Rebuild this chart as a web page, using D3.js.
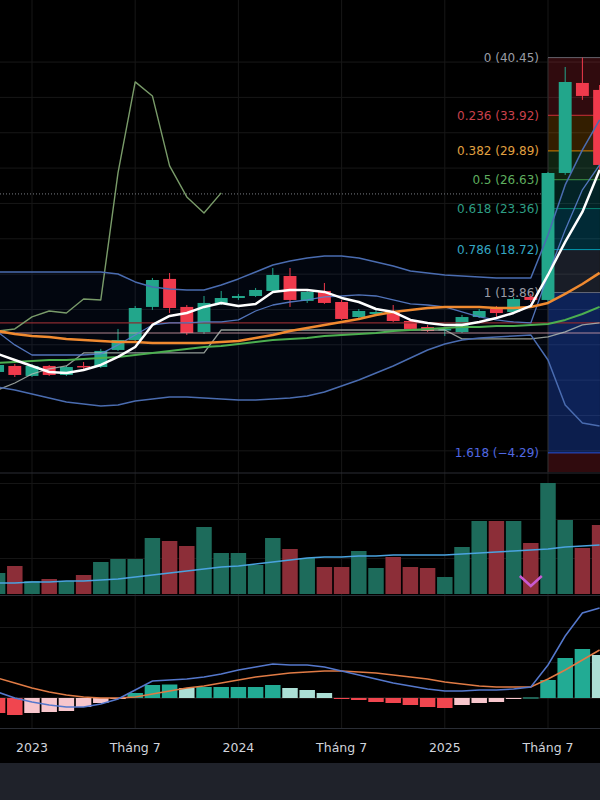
<!DOCTYPE html>
<html>
<head>
<meta charset="utf-8">
<script src="https://cdn.jsdelivr.net/npm/d3@7"></script>
<style>
  body { margin: 0; background: #000; }
  svg { display: block; font-family: "DejaVu Sans", sans-serif; }
</style>
</head>
<body>
<svg id="chart" width="600" height="800"></svg>
<script>
// monthly bars, Nov 2022 .. Oct 2025
const months = [
  "2022-11", "2022-12",
  "2023-01", "2023-02", "2023-03", "2023-04", "2023-05", "2023-06",
  "2023-07", "2023-08", "2023-09", "2023-10", "2023-11", "2023-12",
  "2024-01", "2024-02", "2024-03", "2024-04", "2024-05", "2024-06",
  "2024-07", "2024-08", "2024-09", "2024-10", "2024-11", "2024-12",
  "2025-01", "2025-02", "2025-03", "2025-04", "2025-05", "2025-06",
  "2025-07", "2025-08", "2025-09", "2025-10"
];

const opens = [4.87, 5.55, 4.42, 5.55, 4.53, 5.55, 5.43, 7.36, 8.49, 12.23,
  15.40, 12.23, 9.39, 12.68, 13.24, 13.47, 14.04, 15.73, 12.91, 14.04,
  12.79, 11.09, 11.43, 11.66, 10.64, 9.96, 9.62, 9.39, 11.09, 12.00,
  11.66, 13.36, 13.02, 27.39, 37.58, 36.79];
const highs = [5.89, 5.78, 5.78, 5.66, 5.55, 6.00, 7.48, 9.74, 12.34, 15.51,
  16.07, 12.45, 13.47, 14.04, 13.70, 14.38, 16.64, 16.64, 14.15, 14.94,
  13.02, 12.00, 11.89, 12.45, 10.87, 10.19, 9.96, 11.32, 12.00, 12.34,
  13.36, 13.70, 27.51, 39.39, 40.45, 37.35];
const lows = [4.64, 4.30, 4.30, 4.42, 4.42, 5.21, 5.32, 7.25, 8.38, 11.89,
  11.54, 9.05, 9.17, 12.45, 13.02, 13.36, 13.92, 12.23, 12.68, 12.57,
  10.75, 10.75, 11.21, 10.53, 9.62, 9.39, 8.94, 9.28, 10.98, 10.87,
  11.43, 12.79, 12.79, 27.17, 35.66, 27.73];
const closes = [5.66, 4.53, 5.55, 4.53, 5.43, 5.43, 7.25, 8.49, 12.11, 15.28,
  12.11, 9.28, 12.68, 13.24, 13.47, 14.15, 15.85, 13.02, 13.92, 12.68,
  10.87, 11.77, 11.66, 10.64, 9.74, 9.51, 9.74, 11.09, 11.77, 11.54,
  13.13, 13.02, 27.39, 37.69, 36.11, 28.30];

// overlays on the price pane
const maWhite = [6.91, 6.23, 5.55, 4.87, 4.76, 5.10, 5.66, 6.57, 7.70, 10.19,
  11.21, 11.55, 12.23, 12.68, 12.34, 12.57, 13.93, 14.15, 14.15, 13.93,
  13.25, 12.79, 12.00, 11.66, 10.76, 10.42, 10.19, 10.19, 10.53, 10.98,
  11.55, 12.34, 15.85, 19.59, 22.98, 27.74];
const maOrange = [9.51, 9.17, 8.94, 8.83, 8.61, 8.49, 8.38, 8.27, 8.27, 8.15,
  8.15, 8.15, 8.15, 8.27, 8.38, 8.72, 9.06, 9.51, 9.85, 10.19,
  10.53, 10.87, 11.32, 11.66, 11.89, 12.11, 12.23, 12.23, 12.23, 12.11,
  12.11, 12.23, 12.68, 13.70, 14.83, 16.08];
const maGreen = [5.89, 6.00, 6.11, 6.23, 6.23, 6.34, 6.45, 6.57, 6.79, 7.02,
  7.25, 7.47, 7.70, 7.81, 8.04, 8.27, 8.49, 8.61, 8.72, 8.94,
  9.06, 9.17, 9.28, 9.51, 9.62, 9.74, 9.85, 9.96, 9.96, 10.08,
  10.08, 10.19, 10.30, 10.76, 11.43, 12.23];
const bandUpper = [16.19, 16.19, 16.19, 16.19, 16.19, 16.19, 16.19, 15.96, 15.06, 14.49,
  14.27, 14.15, 14.15, 14.72, 15.40, 16.19, 16.98, 17.43, 17.77, 18.00,
  18.00, 17.77, 17.32, 16.87, 16.30, 16.08, 15.85, 15.74, 15.62, 15.51,
  15.51, 15.51, 20.38, 26.04, 30.00, 33.40];
const bandLower = [3.17, 2.83, 2.38, 1.93, 1.47, 1.25, 1.02, 1.13, 1.59, 1.81,
  2.04, 2.04, 1.93, 1.81, 1.70, 1.70, 1.81, 1.93, 2.15, 2.61,
  3.28, 3.96, 4.76, 5.55, 6.45, 7.36, 8.04, 8.49, 8.72, 8.83,
  8.94, 9.06, 6.23, 1.13, -0.90, -1.24];
const conversionLine = [9.40, 7.93, 6.79, 6.79, 6.79, 6.79, 6.91, 7.93, 9.06, 10.19,
  10.42, 10.42, 10.53, 10.53, 10.76, 11.77, 12.45, 12.79, 13.02, 13.36,
  13.47, 13.59, 13.47, 13.02, 12.57, 12.45, 12.23, 11.66, 11.10, 10.76,
  10.53, 10.42, 15.85, 20.95, 25.48, 28.31];
const leadLine = [2.83, 3.62, 4.64, 5.21, 5.55, 7.02, 7.02, 7.02, 7.02, 7.02,
  7.02, 7.02, 7.02, 9.62, 9.62, 9.62, 9.62, 9.62, 9.62, 9.62,
  9.62, 9.62, 9.62, 9.62, 9.62, 9.62, 9.62, 8.61, 8.61, 8.61,
  8.61, 8.61, 8.83, 9.40, 10.19, 10.42];
// lagging line, drawn from the first month only
const laggingLine = [9.51, 9.74, 11.10, 11.77, 11.55, 13.13, 13.02, 27.40, 37.70, 36.11,
  28.19, 24.68, 22.87, 25.14];
const baseLevel = 10.42;
const pinkLevel = 9.28;
const dottedLevel = 25.02;

// volume pane
const volumes = [2.1, 2.8, 1.3, 1.5, 1.3, 1.9, 3.2, 3.5, 3.5, 5.6,
  5.3, 4.8, 6.7, 4.1, 4.1, 2.9, 5.6, 4.5, 3.6, 2.7,
  2.7, 4.3, 2.6, 3.7, 2.7, 2.6, 1.7, 4.7, 7.3, 7.3,
  7.3, 5.1, 11.1, 7.4, 4.6, 6.9];
const volumeMA = [1.1, 1.1, 1.2, 1.2, 1.3, 1.3, 1.4, 1.5, 1.7, 1.9,
  2.1, 2.3, 2.5, 2.7, 2.8, 3.0, 3.2, 3.4, 3.6, 3.7,
  3.7, 3.8, 3.8, 3.9, 3.9, 3.9, 3.9, 4.0, 4.1, 4.2,
  4.3, 4.4, 4.5, 4.7, 4.8, 4.9];
const markerMonth = "2025-06";

// MACD pane
const macdHist = [-1.5, -1.7, -1.5, -1.4, -1.3, -0.9, -0.5, -0.1, 0.5, 1.3,
  1.35, 1.0, 1.1, 1.1, 1.1, 1.1, 1.3, 1.0, 0.8, 0.5,
  -0.05, -0.2, -0.4, -0.5, -0.7, -0.9, -1.0, -0.7, -0.5, -0.4,
  -0.1, 0.05, 1.8, 4.0, 4.9, 4.3];
const macdLine = [0.6, 0.0, -0.4, -0.7, -0.9, -0.9, -0.6, -0.1, 0.8, 1.7,
  1.8, 1.9, 2.1, 2.4, 2.8, 3.1, 3.4, 3.3, 3.3, 3.1,
  2.7, 2.3, 1.9, 1.5, 1.2, 0.9, 0.7, 0.7, 0.8, 0.8,
  0.9, 1.1, 3.3, 6.2, 8.5, 9.0];
const signalLine = [2.0, 1.5, 1.0, 0.6, 0.3, 0.1, 0.0, 0.0, 0.1, 0.4,
  0.7, 1.0, 1.2, 1.5, 1.8, 2.1, 2.3, 2.5, 2.6, 2.7,
  2.7, 2.6, 2.5, 2.3, 2.1, 1.9, 1.6, 1.4, 1.2, 1.1,
  1.1, 1.1, 1.9, 2.8, 3.8, 4.8];

// Fibonacci retracement from Jul 2025
const fibStart = "2025-07";
const fibLevels = ["0", "0.236", "0.382", "0.5", "0.618", "0.786", "1", "1.618", "2.618"];
const fibPrices = [40.45, 33.92, 29.89, 26.63, 23.36, 18.72, 13.86, -4.29, -29.16];
const fibColors = ["#787b86", "#f23645", "#ff9800", "#4caf50", "#089981", "#00bcd4", "#787b86", "#2962ff", "#f23645"];
const fibTextColors = ["#9a9da6", "#c9414c", "#e0a040", "#5fae5f", "#2e9e84", "#34a6c2", "#9a9da6", "#5068e0"];

// grids and time axis
const priceGrid = [-4, 0, 4, 8, 12, 16, 20, 24, 28, 32, 36, 40];
const volumeGrid = [3.6, 7.5, 11.1];
const macdGrid = [3.6, 7.1];
const axisMonths = ["2023-01", "2023-07", "2024-01", "2024-07", "2025-01", "2025-07"];
const axisLabels = ["2023", "Tháng 7", "2024", "Tháng 7", "2025", "Tháng 7"];

const upColor = "#22a68b";
const downColor = "#ef3a4c";

const svg = d3.select("#chart");
const W = 600;

const x = d3.scaleBand().domain(months).range([-11, 608.2]).paddingInner(0.25).paddingOuter(0.125);
const xBar = d3.scaleBand().domain(months).range([-11, 608.2]).paddingInner(0.1).paddingOuter(0.05);
const cx = (m) => x(m) + x.bandwidth() / 2;

const yPrice = d3.scaleLinear().domain([-4.29, 40.45]).range([452.9, 57.6]);
const yVol = d3.scaleLinear().domain([0, 11.8]).range([594, 476]);
const yMacd = d3.scaleLinear().domain([-3.0, 10.2]).range([728, 596]);

// bottom toolbar strip
svg.append("rect").attr("x", 0).attr("y", 763).attr("width", W).attr("height", 37).attr("fill", "#1f222a");

// clip paths for the panes
const defs = svg.append("defs");
defs.append("clipPath").attr("id", "clipPrice").append("rect").attr("x", 0).attr("y", 0).attr("width", W).attr("height", 472);
defs.append("clipPath").attr("id", "clipVol").append("rect").attr("x", 0).attr("y", 474).attr("width", W).attr("height", 121);
defs.append("clipPath").attr("id", "clipMacd").append("rect").attr("x", 0).attr("y", 597).attr("width", W).attr("height", 131);

const styleGrid = (g, color) => {
  g.select(".domain").remove();
  g.selectAll("line").attr("stroke", color).attr("stroke-width", 1);
};

// vertical grid
svg.append("g")
  .call(d3.axisBottom(x).tickValues(axisMonths).tickSize(728).tickFormat(""))
  .call((g) => styleGrid(g, "#171717"));

// horizontal grids
svg.append("g").attr("clip-path", "url(#clipPrice)")
  .call(d3.axisRight(yPrice).tickValues(priceGrid).tickSize(W).tickFormat(""))
  .call((g) => styleGrid(g, "#171717"));
svg.append("g")
  .call(d3.axisRight(yVol).tickValues(volumeGrid).tickSize(W).tickFormat(""))
  .call((g) => styleGrid(g, "#151515"));
svg.append("g")
  .call(d3.axisRight(yMacd).tickValues(macdGrid).tickSize(W).tickFormat(""))
  .call((g) => styleGrid(g, "#151515"));

// pane separators
[473, 595.5, 728.5].forEach((yy) => {
  svg.append("line").attr("x1", 0).attr("x2", W).attr("y1", yy).attr("y2", yy)
    .attr("stroke", "#2a2d35").attr("stroke-width", 1.2);
});

// ---------- price pane ----------
const price = svg.append("g").attr("clip-path", "url(#clipPrice)");

// band fill
price.append("path")
  .datum(months)
  .attr("fill", "#2962ff").attr("fill-opacity", 0.06)
  .attr("d", d3.area()
    .x((d) => cx(d))
    .y0((d, i) => yPrice(bandLower[i]))
    .y1((d, i) => yPrice(bandUpper[i])));

// fib zones, each filled with the colour of its lower level
const fibX = cx(fibStart);
fibPrices.slice(0, -1).forEach((p, k) => {
  price.append("rect")
    .attr("x", fibX).attr("width", W - fibX)
    .attr("y", yPrice(p))
    .attr("height", yPrice(fibPrices[k + 1]) - yPrice(p))
    .attr("fill", fibColors[k + 1])
    .attr("fill-opacity", k === 6 ? 0.3 : 0.2);
});
price.append("line")
  .attr("x1", fibX).attr("x2", fibX).attr("y1", yPrice(fibPrices[0])).attr("y2", 472)
  .attr("stroke", "#2a2a2a");

// dotted price line
price.append("line")
  .attr("x1", 0).attr("x2", fibX).attr("y1", yPrice(dottedLevel)).attr("y2", yPrice(dottedLevel))
  .attr("stroke", "#7a7d85").attr("stroke-width", 1).attr("stroke-dasharray", "1,2");

// fib lines and labels
fibPrices.forEach((p, k) => {
  price.append("line")
    .attr("x1", fibX).attr("x2", W).attr("y1", yPrice(p)).attr("y2", yPrice(p))
    .attr("stroke", fibColors[k]).attr("stroke-opacity", 0.8).attr("stroke-width", 1);
  if (k < fibTextColors.length) {
    const txt = p < 0 ? "−" + Math.abs(p).toFixed(2) : p.toFixed(2);
    price.append("text")
      .attr("x", fibX - 9).attr("y", yPrice(p) + 4.5)
      .attr("text-anchor", "end")
      .attr("font-size", 12)
      .attr("fill", fibTextColors[k])
      .text(`${fibLevels[k]} (${txt})`);
  }
});

// candles
const candles = price.append("g")
  .selectAll("g")
  .data(months)
  .enter()
  .append("g");
candles.append("line")
  .attr("x1", (d) => cx(d)).attr("x2", (d) => cx(d))
  .attr("y1", (d, i) => yPrice(highs[i]))
  .attr("y2", (d, i) => yPrice(lows[i]))
  .attr("stroke", (d, i) => (closes[i] >= opens[i] ? upColor : downColor))
  .attr("stroke-width", 1);
candles.append("rect")
  .attr("x", (d) => x(d))
  .attr("width", x.bandwidth())
  .attr("y", (d, i) => yPrice(Math.max(opens[i], closes[i])))
  .attr("height", (d, i) => Math.max(1.5, Math.abs(yPrice(opens[i]) - yPrice(closes[i]))))
  .attr("fill", (d, i) => (closes[i] >= opens[i] ? upColor : downColor));

// overlay lines
const priceLine = (values, color, width, opacity) => {
  price.append("path")
    .datum(values)
    .attr("fill", "none")
    .attr("stroke", color)
    .attr("stroke-width", width)
    .attr("stroke-opacity", opacity)
    .attr("stroke-linejoin", "round")
    .attr("d", d3.line().x((d, i) => cx(months[i])).y((d) => yPrice(d)));
};

price.append("line").attr("x1", 0).attr("x2", W)
  .attr("y1", yPrice(baseLevel)).attr("y2", yPrice(baseLevel))
  .attr("stroke", "#8a2b30").attr("stroke-width", 1.3);
price.append("line").attr("x1", 0).attr("x2", W)
  .attr("y1", yPrice(pinkLevel)).attr("y2", yPrice(pinkLevel))
  .attr("stroke", "#d9a3ad").attr("stroke-width", 1.2).attr("stroke-opacity", 0.8);

priceLine(leadLine, "#b8c0b8", 1.3, 0.8);
priceLine(laggingLine, "#7fa36f", 1.4, 0.95);
priceLine(bandUpper, "#4a6cb0", 1.5, 1);
priceLine(bandLower, "#4a6cb0", 1.5, 1);
priceLine(conversionLine, "#5a7fcc", 1.3, 0.9);
priceLine(maGreen, "#4caf50", 2, 1);
priceLine(maOrange, "#f08a30", 2.5, 1);
priceLine(maWhite, "#ffffff", 2.5, 1);

// ---------- volume pane ----------
const vol = svg.append("g").attr("clip-path", "url(#clipVol)");
vol.selectAll("rect")
  .data(months)
  .enter()
  .append("rect")
  .attr("x", (d) => xBar(d))
  .attr("width", xBar.bandwidth())
  .attr("y", (d, i) => yVol(volumes[i]))
  .attr("height", (d, i) => yVol(0) - yVol(volumes[i]))
  .attr("fill", (d, i) => (closes[i] >= opens[i] ? "#1d6b5b" : "#8c2e38"));
vol.append("path")
  .datum(volumeMA)
  .attr("fill", "none")
  .attr("stroke", "#4aa3df")
  .attr("stroke-width", 1.5)
  .attr("d", d3.line().x((d, i) => cx(months[i])).y((d) => yVol(d)));
const mx = cx(markerMonth);
vol.append("path")
  .attr("d", `M${mx - 11},${yVol(1.8)} L${mx},${yVol(0.8)} L${mx + 11},${yVol(1.8)}`)
  .attr("fill", "none")
  .attr("stroke", "#c95ad2")
  .attr("stroke-width", 2.5);

// ---------- MACD pane ----------
const macd = svg.append("g").attr("clip-path", "url(#clipMacd)");
macd.append("line").attr("x1", 0).attr("x2", W)
  .attr("y1", yMacd(0)).attr("y2", yMacd(0))
  .attr("stroke", "#3a2c2a").attr("stroke-width", 1);
const histColor = (h, i) => {
  const prev = i > 0 ? macdHist[i - 1] : 0;
  if (h >= 0) return h >= prev ? "#22ab94" : "#acdfd5";
  return h < prev ? "#f0464f" : "#f7c6cc";
};
macd.selectAll("rect")
  .data(macdHist)
  .enter()
  .append("rect")
  .attr("x", (d, i) => xBar(months[i]))
  .attr("width", xBar.bandwidth())
  .attr("y", (d) => yMacd(Math.max(0, d)))
  .attr("height", (d) => Math.max(1, Math.abs(yMacd(d) - yMacd(0))))
  .attr("fill", histColor);
const macdPath = (values, color) => {
  macd.append("path")
    .datum(values)
    .attr("fill", "none")
    .attr("stroke", color)
    .attr("stroke-width", 1.5)
    .attr("d", d3.line().x((d, i) => cx(months[i])).y((d) => yMacd(d)));
};
macdPath(signalLine, "#e07b45");
macdPath(macdLine, "#5578cc");

// ---------- time axis ----------
svg.append("g")
  .attr("transform", "translate(0,729)")
  .call(d3.axisBottom(x).tickValues(axisMonths).tickSize(0).tickPadding(14)
    .tickFormat((d, i) => axisLabels[i]))
  .call((g) => g.select(".domain").remove())
  .call((g) => g.selectAll("text")
    .attr("fill", "#d1d4dc")
    .attr("font-size", 12.5)
    .attr("font-family", "DejaVu Sans, sans-serif"));
</script>
</body>
</html>
